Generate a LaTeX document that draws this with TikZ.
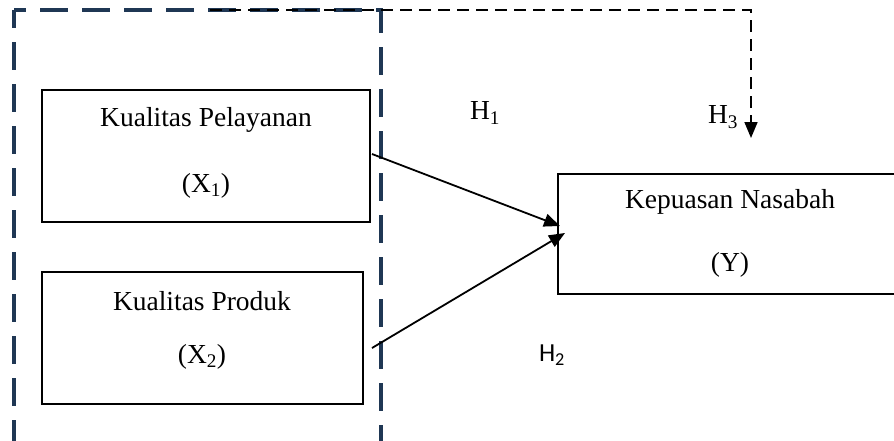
\documentclass[tikz,border=0pt]{standalone}
\usepackage{fontspec}
\setmainfont{Liberation Serif}
\newfontfamily\hfont{Carlito}
\usetikzlibrary{arrows.meta}
\definecolor{navy}{HTML}{1F3754}
\tikzset{
  varbox/.style={draw=black, line width=1.3pt, rectangle, inner sep=0pt},
  lbl/.style={font=\fontsize{27.5}{33}\selectfont, inner sep=0pt, anchor=center},
  link/.style={line width=1.8pt, -{Triangle[length=16pt,width=13pt]}},
  groupline/.style={draw=navy, line width=3.6pt, dash pattern=on 28pt off 14pt},
  moderate/.style={line width=1.7pt, dash pattern=on 12pt off 7pt, -{Triangle[length=16pt,width=13pt]}}
}
\begin{document}
\begin{tikzpicture}[x=1pt,y=-1pt]
  \useasboundingbox (0,0) rectangle (894,440);
  \clip (0,0) rectangle (894,440);

  % variable boxes
  \node[varbox, minimum width=328pt, minimum height=132pt] (x1) at (206,156) {};
  \node[varbox, minimum width=321pt, minimum height=132pt] (x2) at (202.5,338) {};
  \node[varbox, minimum width=342pt, minimum height=120pt] (y) at (729,234) {};

  % box texts
  \node[lbl] (x1name) at (206,120) {Kualitas Pelayanan};
  \node[lbl] (x1sym) at (206,186) {(X\textsubscript{1})};
  \node[lbl] (x2name) at (202,301) {Kualitas Produk};
  \node[lbl] (x2sym) at (202,357) {(X\textsubscript{2})};
  \node[lbl] (yname) at (730,202) {Kepuasan Nasabah};
  \node[lbl] (ysym) at (730,265) {(Y)};

  % dashed grouping frame around the two independent variables
  \coordinate (gtl) at (14,10);
  \coordinate (gtr) at (381,10);
  \coordinate (gbl) at (14,470);
  \coordinate (gbr) at (381,470);
  \draw[groupline, dash phase=10pt] (gtl) -- (gbl);
  \draw[groupline, dash phase=16pt] (gtl) -- (gtr) -- (gbr);

  % partial effects
  \coordinate (s1) at (372,154);
  \coordinate (e1) at (560,226);
  \coordinate (s2) at (372,348);
  \coordinate (e2) at (565,233);
  \draw[link] (s1) -- (e1);
  \draw[link] (s2) -- (e2);

  % simultaneous effect
  \coordinate (m0) at (210,10);
  \coordinate (m1) at (751,10);
  \coordinate (m2) at (751,138);
  \draw[moderate] (m0) -- (m1) -- (m2);

  % hypothesis labels
  \node[lbl] (h1) at (485,113) {H\textsubscript{1}};
  \node[lbl] (h3) at (723,117) {H\textsubscript{3}};
  \node[inner sep=0pt, font=\hfont\fontsize{26}{30}\selectfont] (h2) at (552,355) {H\textsubscript{2}};
\end{tikzpicture}
\end{document}
